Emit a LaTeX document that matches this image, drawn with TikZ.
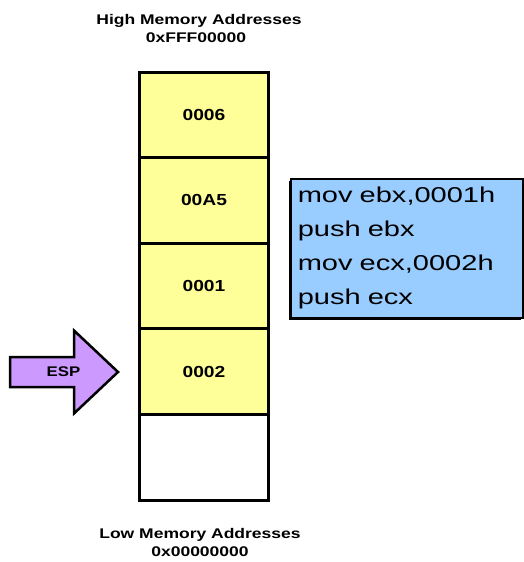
\documentclass[tikz,border=0pt]{standalone}
\usepackage{fontspec}
\usepackage{tikz}
\usetikzlibrary{positioning,shadows}
\newfontfamily\lblfont[FakeStretch=1.25]{Liberation Sans}
\newfontfamily\cellfont[FakeStretch=1.2]{Liberation Sans}
\newfontfamily\codefont[FakeStretch=1.35]{Liberation Sans}
\definecolor{slotfill}{HTML}{FFFF99}
\definecolor{codefill}{HTML}{99CCFF}
\definecolor{espfill}{HTML}{CC99FF}

\begin{document}
\begin{tikzpicture}[x=1pt,y=-1pt,
  slot/.style={draw=black,line width=3pt,fill=slotfill,minimum width=129pt,
    minimum height=85.6pt,inner sep=0pt,outer sep=0pt,
    font=\cellfont\bfseries\fontsize{16}{18}\selectfont},
  addrlbl/.style={font=\lblfont\bfseries\fontsize{14}{16}\selectfont,anchor=base,inner sep=0pt},
  codebox/.style={draw=black,line width=1.5pt,fill=codefill,anchor=north west,
    text width=218pt,minimum height=139pt,inner xsep=7pt,inner ysep=0pt,align=left,
    font=\codefont\fontsize{21.5}{34}\selectfont,
    drop shadow={shadow xshift=-2pt,shadow yshift=-2pt,fill=black,opacity=1}}]
\useasboundingbox (0,0) rectangle (524,562);
% --- address labels ---------------------------------------------------
\node[addrlbl] (hightxt) at (199,24) {High Memory Addresses};
\node[addrlbl] (highaddr) at (196,42) {0xFFF00000};
\node[addrlbl] (lowtxt) at (200,538) {Low Memory Addresses};
\node[addrlbl] (lowaddr) at (200,556) {0x00000000};
% --- the stack, top to bottom -----------------------------------------
\node[slot,anchor=north] (s1) at (204,72) {0006};
\foreach \i/\j/\val in {2/1/00A5, 3/2/0001, 4/3/0002} {
  \node[slot,below=0pt of s\j] (s\i) {\val};
}
\node[slot,fill=white,below=0pt of s4] (s5) {};
% --- stack pointer ----------------------------------------------------
\draw[line width=2.5pt,fill=espfill,line join=miter]
  (10,357) -- (74,357) -- (74,330.5) -- (118,372) -- (74,413.5) -- (74,387) -- (10,387) -- cycle;
\node[font=\cellfont\bfseries\fontsize{14}{16}\selectfont] (esp) at (63.5,372) {ESP};
% --- code -------------------------------------------------------------
\node[codebox] (code) at (290,178) {mov ebx,0001h\\push ebx\\mov ecx,0002h\\push ecx};
\end{tikzpicture}
\end{document}
